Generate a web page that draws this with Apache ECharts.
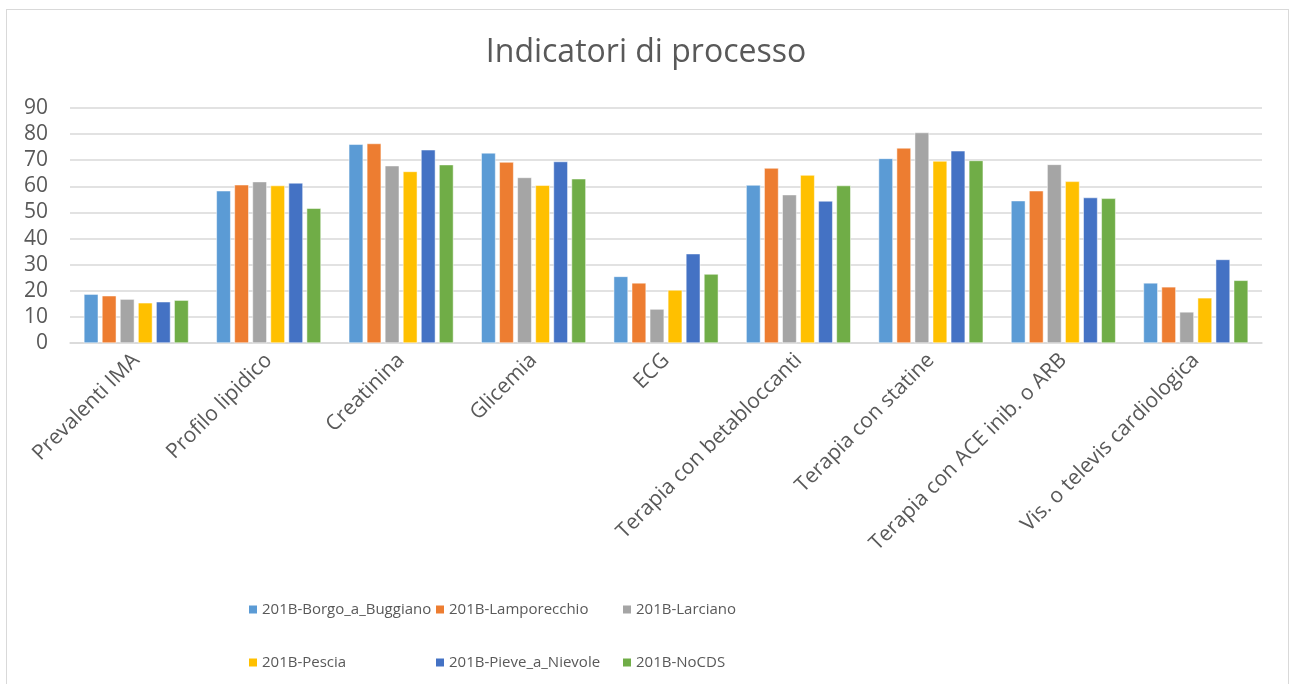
<!DOCTYPE html>
<html>
<head>
<meta charset="utf-8">
<script src="https://cdn.jsdelivr.net/npm/echarts@6/dist/echarts.min.js"></script>
<style>
  html, body { margin: 0; padding: 0; background: #fff; }
  #main { width: 1292px; height: 684px; }
  #frame { position: absolute; left: 6px; top: 9px; width: 1283px; height: 700px; border: 1px solid #d9d9d9; box-sizing: border-box; pointer-events: none; }
</style>
</head>
<body>
<div id="main"></div>
<div id="frame"></div>
<script>
// categorie e valori
var categorie = ['Prevalenti IMA', 'Profilo lipidico', 'Creatinina', 'Glicemia', 'ECG',
  'Terapia con betabloccanti', 'Terapia con statine', 'Terapia con ACE inib. o ARB', 'Vis. o televis cardiologica'];
var serieNomi = ['201B-Borgo_a_Buggiano', '201B-Lamporecchio', '201B-Larciano',
  '201B-Pescia', '201B-Pieve_a_Nievole', '201B-NoCDS'];
var colori = ['#5b9bd5', '#ed7d31', '#a5a5a5', '#ffc000', '#4472c4', '#70ad47'];

var borgo = [18.7, 58.3, 76.1, 72.8, 25.5, 60.5, 70.7, 54.5, 23.0];
var lamporecchio = [18.1, 60.6, 76.4, 69.3, 23.0, 67.0, 74.7, 58.3, 21.5];
var larciano = [16.8, 61.8, 67.9, 63.4, 13.0, 56.8, 80.6, 68.4, 11.9];
var pescia = [15.4, 60.3, 65.7, 60.4, 20.3, 64.3, 69.7, 61.9, 17.3];
var pieve = [15.8, 61.3, 74.0, 69.5, 34.2, 54.4, 73.6, 55.7, 32.0];
var nocds = [16.4, 51.6, 68.3, 62.9, 26.4, 60.3, 69.9, 55.4, 24.0];
var valori = [borgo, lamporecchio, larciano, pescia, pieve, nocds];

var myChart = echarts.init(document.getElementById('main'));

var serie = serieNomi.map(function (n, i) {
  return {
    name: n,
    type: 'bar',
    data: valori[i],
    barGap: '26%',
    barCategoryGap: '21%',
    itemStyle: { color: colori[i], borderColor: '#fff', borderWidth: 0.5 }
  };
});

var font = '"Open Sans", sans-serif';

// una legenda per voce, in due righe da tre colonne
var colX = [247, 434, 621];
var rigaY = [602, 655];
var legende = serieNomi.map(function (n, i) {
  return {
    left: colX[i % 3],
    top: rigaY[Math.floor(i / 3)],
    data: [n],
    icon: 'rect',
    itemWidth: 10,
    itemHeight: 10,
    padding: 0,
    textStyle: { color: '#595959', fontSize: 15, fontFamily: font, padding: [0, 0, 0, -1] }
  };
});

var option = {
  animation: false,
  title: {
    text: 'Indicatori di processo',
    left: 'center',
    top: 32,
    textStyle: { color: '#595959', fontSize: 32, fontWeight: 'normal', fontFamily: font }
  },
  legend: legende,
  grid: { left: 70, right: 30, top: 108, bottom: 341 },
  xAxis: {
    type: 'category',
    data: categorie,
    axisLine: { lineStyle: { color: '#d9d9d9', width: 1.5 } },
    axisTick: { show: false },
    axisLabel: { rotate: 45, color: '#595959', fontSize: 21, fontFamily: font, margin: 14, interval: 0 }
  },
  yAxis: {
    type: 'value',
    min: 0,
    max: 90,
    interval: 10,
    axisLine: { show: false },
    axisTick: { show: false },
    splitLine: { lineStyle: { color: '#d9d9d9', width: 1.5 } },
    axisLabel: { color: '#595959', fontSize: 21, fontFamily: font, margin: 22 }
  },
  series: serie
};

myChart.setOption(option);
</script>
</body>
</html>
